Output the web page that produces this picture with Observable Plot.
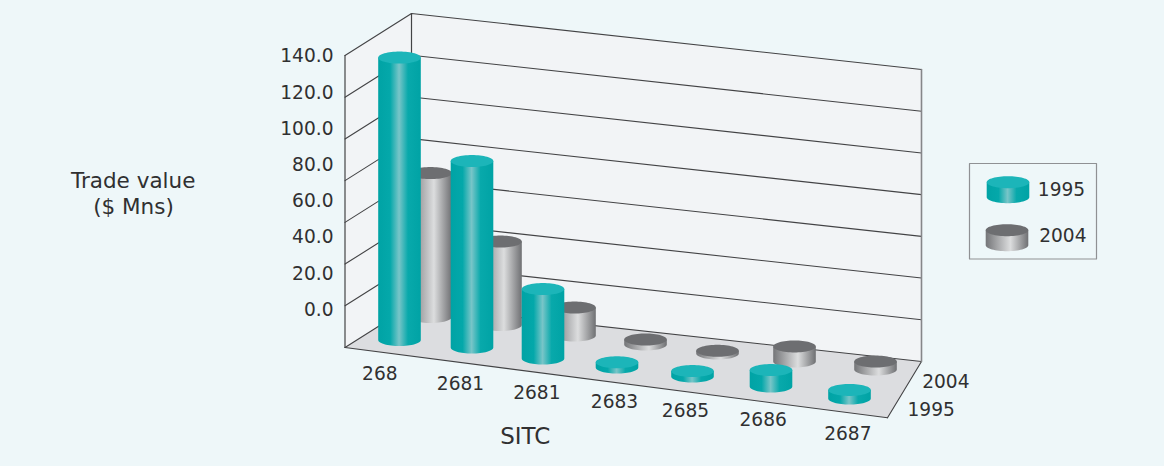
<!DOCTYPE html>
<html>
<head>
<meta charset="utf-8">
<script src="https://cdn.jsdelivr.net/npm/d3@7"></script>
<script src="https://cdn.jsdelivr.net/npm/@observablehq/plot@0.6"></script>
<style>
html,body{margin:0;padding:0;background:#fff}
svg{display:block}
</style>
</head>
<body>
<div id="chart"></div>
<script>
// ---- data ----
const categories = ["268","2681","2681","2683","2685","2686","2687"];
const values1995 = [135.4,89.4,33.3,2.5,2.6,7.9,4.1];
const values2004 = [69,40,13.4,2.4,1.3,7.2,3.8];
const seriesNames = ["1995","2004"];
const tickValues = [0,20,40,60,80,100,120,140];
const legendValue = 7.2;

const W = 1164, H = 466;
const floorA = [344.5,347], floorD = [887,417.3], floorC = [921,361], floorB = [411,305];
const unit = 292/140;                       // pixels per $ Mn
const frontX = [399,471.5,542.5,616.5,692,770.5,849];
const frontBase = [339.5,347,358,367,376,386,398];
const backX = [430,500,574,645,717,794,875];
const backBase = [316.5,324.5,335,344,353,361,369];
const rx = 21.3, ry = 6;
const bg = "#eef7f9", ink = "#303031", line = "#434345";
const font = "DejaVu Sans";
const tickLabelY = [309.7,273.3,237,201,164.3,128.3,92.3,55.7];
const catLabelX = [379.3,460,536.3,614,685,762.7,847.3];
const catLabelY = [374,383.7,392.3,402,411,420,433.3];

// px height -> value on the y scale
const Y = p => (floorA[1]-p)/unit;
const P = ([x,y]) => ({x,y:Y(y)});

// cylinder outlines
function cylinder(id,cx,baseV,v,r=rx,q=ry){
  const body=[],cap=[];
  body.push({id,x:cx-r,y:baseV+v});
  for(let i=0;i<=32;i++){const t=Math.PI*i/32;body.push({id,x:cx-r*Math.cos(t),y:baseV-q*Math.sin(t)/unit});}
  body.push({id,x:cx+r,y:baseV+v});
  for(let i=0;i<=64;i++){const t=2*Math.PI*i/64;cap.push({id,x:cx+r*Math.cos(t),y:baseV+v+q*Math.sin(t)/unit});}
  return {body,cap};
}
function row(name,values,xs,bases){
  const out={body:[],cap:[]};
  values.forEach((v,i)=>{
    const c=cylinder(name+"-"+i,xs[i],Y(bases[i]),v);
    out.body.push(...c.body);out.cap.push(...c.cap);
  });
  return out;
}
const front=row("f",values1995,frontX,frontBase), back=row("b",values2004,backX,backBase);
const leg1=cylinder("l1",1007.5,Y(196.7),legendValue), leg2=cylinder("l2",1006.5,Y(244.7),legendValue);

const poly=(pts,fill)=>Plot.line(pts,{x:"x",y:"y",z:"id",fill,stroke:"none"});
const seg=(pts,o={})=>Plot.line(pts,{x:"x",y:"y",stroke:o.stroke||line,strokeWidth:o.w||1.1});

const topV=tickValues[tickValues.length-1];
const A=P(floorA),B=P(floorB),C=P(floorC),D=P(floorD);
const up=(p,v)=>({x:p.x,y:p.y+v});

function defs(){
  const ns="http://www.w3.org/2000/svg";
  const d=document.createElementNS(ns,"defs");
  const add=(id,stops)=>{
    const g=document.createElementNS(ns,"linearGradient");
    g.setAttribute("id",id);g.setAttribute("x1",0);g.setAttribute("x2",1);g.setAttribute("y1",0);g.setAttribute("y2",0);
    stops.forEach(([o,c])=>{const s=document.createElementNS(ns,"stop");s.setAttribute("offset",o);s.setAttribute("stop-color",c);g.appendChild(s);});
    d.appendChild(g);
  };
  add("teal",[[0,"#00a3a5"],[.28,"#04a8aa"],[.49,"#78c5c8"],[.7,"#08a9ab"],[1,"#00a3a5"]]);
  add("gray",[[0,"#747578"],[.58,"#dcddde"],[1,"#6f7073"]]);
  return d;
}

const txt=(data,o)=>Plot.text(data,{fontFamily:font,fill:ink,fontSize:18.6,...o});

const chart=Plot.plot({
  width:W,height:H,margin:0,
  style:{background:bg},
  x:{domain:[0,W],range:[0,W],axis:null},
  y:{domain:[Y(0),Y(H)],range:[0,H],axis:null},
  marks:[
    defs,
    // walls and floor
    poly([A,up(A,topV),up(B,topV),B,A].map(p=>({...p,id:"l"})),"#f2f4f6"),
    poly([B,up(B,topV),up(C,topV),C,B].map(p=>({...p,id:"b"})),"#f2f4f6"),
    poly([A,D,C,B,A].map(p=>({...p,id:"f"})),"#dcdde0"),
    // gridlines
    ...tickValues.map(v=>seg([up(A,v),up(B,v),up(C,v)])),
    seg([A,D]),seg([D,C]),
    seg([A,up(A,topV)],{w:1.2}),
    seg([B,up(B,topV)],{w:1.2}),
    seg([C,up(C,topV)],{stroke:"#858689",w:1.6}),
    // bars
    poly(back.body,"url(#gray)"),poly(back.cap,"#6d6e71"),
    poly(front.body,"url(#teal)"),poly(front.cap,"#1cb5b9"),
    // axis text
    txt(tickValues,{x:()=>333,y:(d,i)=>Y(tickLabelY[i]),text:d=>d.toFixed(1),textAnchor:"end"}),
    txt(categories,{x:(d,i)=>catLabelX[i],y:(d,i)=>Y(catLabelY[i]),text:d=>d}),
    txt(["1995"],{x:()=>930.7,y:()=>Y(410),text:d=>d}),
    txt(["2004"],{x:()=>945.3,y:()=>Y(381.7),text:d=>d}),
    txt(["SITC"],{x:()=>524.8,y:()=>Y(435.7),text:d=>d,fontSize:23}),
    txt(["Trade value"],{x:()=>132.7,y:()=>Y(180.7),text:d=>d,fontSize:21.5}),
    txt(["($ Mns)"],{x:()=>133,y:()=>Y(206.7),text:d=>d,fontSize:21.5}),
    // legend
    seg([969,1096,1096,969,969].map((x,i)=>({x,y:Y([163,163,258.5,258.5,163][i])})),{stroke:"#8f9194",w:1.2}),
    poly(leg1.body,"url(#teal)"),poly(leg1.cap,"#1cb5b9"),
    poly(leg2.body,"url(#gray)"),poly(leg2.cap,"#6d6e71"),
    txt(seriesNames,{x:(d,i)=>[1037.3,1038.7][i],y:(d,i)=>Y([189.3,235.7][i]),text:d=>d,textAnchor:"start"})
  ]
});
document.getElementById("chart").appendChild(chart);
</script>
</body>
</html>
